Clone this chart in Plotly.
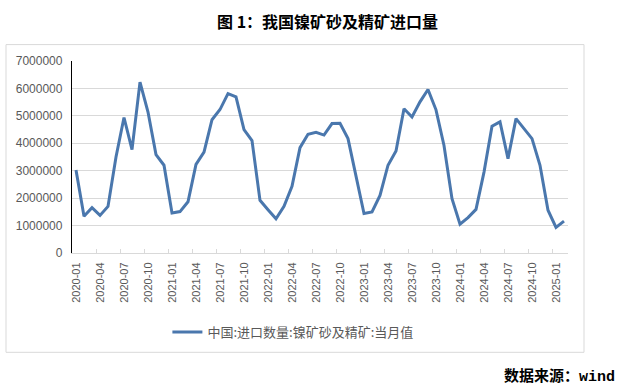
import plotly.graph_objects as go

months = [f"{y}-{m:02d}" for y in range(2020, 2026) for m in range(1, 13)][:62]

imports = [
    3030000, 1340000, 1650000, 1370000, 1700000, 3500000, 4940000, 3770000, 6230000, 5140000, 3590000, 3200000,
    1460000, 1510000, 1870000, 3230000, 3680000, 4860000, 5230000, 5810000, 5690000, 4500000, 4100000, 1920000,
    1580000, 1250000, 1700000, 2430000, 3840000, 4330000, 4400000, 4300000, 4720000, 4730000, 4170000, 2830000,
    1440000, 1500000, 2100000, 3200000, 3720000, 5260000, 4960000, 5510000, 5960000, 5220000, 3920000, 1980000,
    1050000, 1290000, 1590000, 2950000, 4620000, 4780000, 3440000, 4900000, 4530000, 4170000, 3200000, 1560000,
    930000, 1160000,
]

series_name = "中国:进口数量:镍矿砂及精矿:当月值"
title_text = "图 1：我国镍矿砂及精矿进口量"
source_text = "数据来源：wind"

W, H = 634, 389
L, R, T, B = 72.3, 568.3, 60.7, 252.7
pw, ph = R - L, B - T

def px(x):
    return (x - L) / pw

def py(y):
    return (B - y) / ph

fig = go.Figure()
fig.add_trace(go.Scatter(
    x=months, y=imports, mode="lines", name=series_name,
    line=dict(color="#4a77ad", width=3),
))

fig.update_layout(
    width=W, height=H,
    margin=dict(l=L, r=W - R, t=T, b=H - B, pad=0),
    paper_bgcolor="white", plot_bgcolor="white",
    showlegend=True,
    legend=dict(
        orientation="h", x=px(167.7), y=py(331.7), xanchor="left", yanchor="middle",
        font=dict(family="Noto Sans CJK SC", size=13, color="#595959"),
        bgcolor="rgba(0,0,0,0)",
    ),
    xaxis=dict(
        type="category", tickson="boundaries", tickmode="linear", tick0=0, dtick=3,
        range=[-0.5, len(months) - 0.5],
        tickangle=-90, ticks="inside", ticklen=4, tickcolor="#d9d9d9",
        showgrid=False, showline=True, linecolor="#d9d9d9", linewidth=1,
        tickfont=dict(family="Liberation Sans, Arial", size=11, color="#595959"),
        ticklabelstandoff=4,
    ),
    yaxis=dict(
        range=[0, 7000000], dtick=1000000, tick0=0, tickformat="d",
        showgrid=True, gridcolor="#d9d9d9", gridwidth=1,
        showline=True, linecolor="black", linewidth=1.3,
        zeroline=False, ticks="",
        tickfont=dict(family="Liberation Sans, Arial", size=12, color="#595959"),
        ticklabelstandoff=6,
    ),
    shapes=[dict(
        type="rect", xref="paper", yref="paper",
        x0=px(6.3), x1=px(584.3), y0=py(352.0), y1=py(44.3),
        line=dict(color="#d9d9d9", width=1), fillcolor="rgba(0,0,0,0)", layer="below",
    )],
    annotations=[
        dict(text=f"<b>{title_text}</b>", xref="paper", yref="paper", x=px(328), y=py(20.7),
             xanchor="center", yanchor="middle", showarrow=False,
             font=dict(family="Noto Sans CJK SC", size=16, color="black")),
        dict(text=f"<b>{source_text}</b>", xref="paper", yref="paper", x=px(617), y=py(376),
             xanchor="right", yanchor="middle", showarrow=False,
             font=dict(family="Liberation Mono, Noto Sans CJK SC", size=15, color="black")),
    ],
)

fig.write_html("out.html", config={"displayModeBar": False},
               post_script="document.body.style.margin='0';")
